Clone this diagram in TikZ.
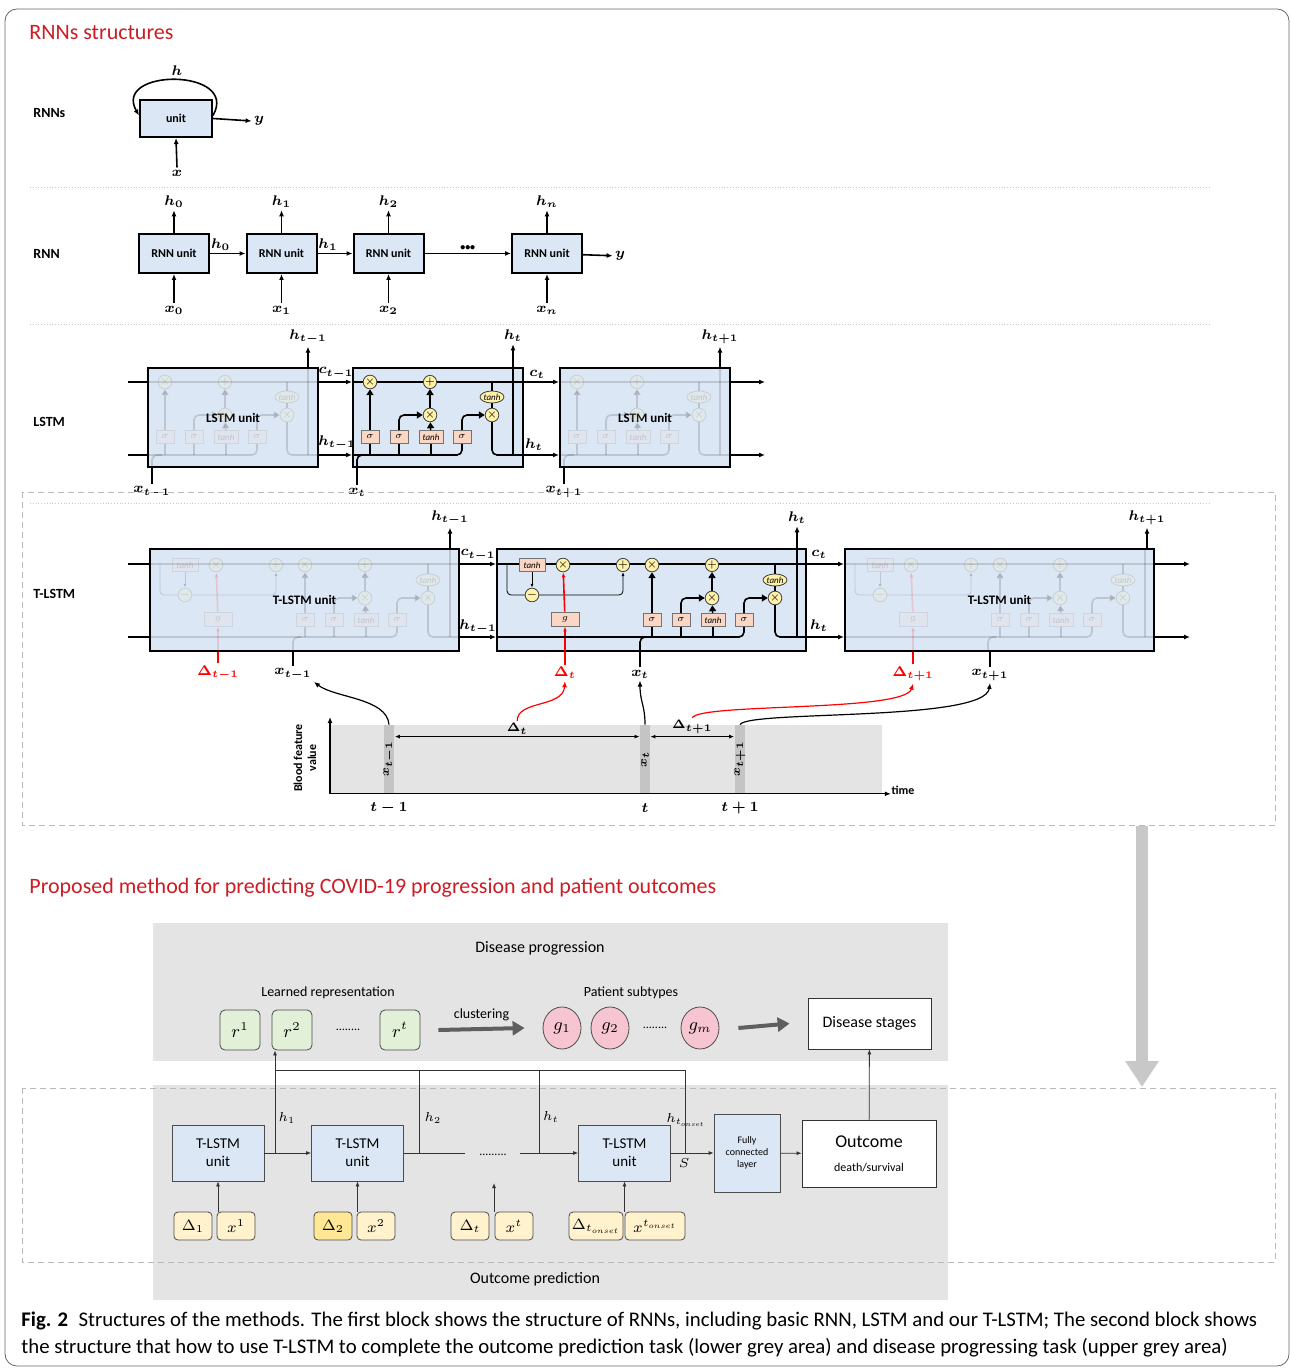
\RequirePackage{fix-cm}
\documentclass[tikz,border=0pt]{standalone}
\usepackage{amsmath,bm}
\usepackage{fontspec}
\setmainfont{Carlito}
\usetikzlibrary{positioning,arrows.meta,calc,shapes.geometric}

\definecolor{titlered}{RGB}{204,28,36}
\definecolor{unitblue}{RGB}{219,231,245}
\definecolor{gatepink}{RGB}{250,214,196}
\definecolor{opyellow}{RGB}{255,241,168}
\definecolor{areagray}{RGB}{228,228,228}
\definecolor{stripegray}{RGB}{196,196,196}
\definecolor{reprgreen}{RGB}{227,240,216}
\definecolor{subpink}{RGB}{247,196,210}
\definecolor{inyellow}{RGB}{255,242,204}
\definecolor{inyellowd}{RGB}{255,231,150}
\definecolor{fatgray}{RGB}{95,95,95}
\definecolor{biggray}{RGB}{200,200,200}

\tikzset{
  op/.style={circle,draw=black!75,fill=opyellow,inner sep=0pt,minimum size=6pt,
    font=\fontsize{5}{5}\selectfont},
  gate/.style={draw=black!55,fill=gatepink,inner sep=0pt,minimum width=9pt,
    minimum height=6.5pt,font=\fontsize{4.5}{5}\selectfont\itshape},
  tanhop/.style={ellipse,draw=black!75,fill=opyellow,inner sep=0pt,
    minimum width=12pt,minimum height=6pt,font=\fontsize{4.5}{5}\selectfont\itshape},
  garrow/.style={-{Triangle[length=3pt,width=3.5pt]},thick,rounded corners=2.5pt},
  % inside of one LSTM cell, origin = top left corner of the cell
  lstmcore/.pic={
    \draw[thick] (0,14) -- (170,14);
    \node[op] (-f) at (17,14) {$\times$};
    \node[op] (-a) at (77,14) {$+$};
    \node[op] (-i) at (77,47) {$\times$};
    \node[tanhop] (-th) at (139,29) {tanh};
    \node[op] (-o) at (139,47) {$\times$};
    \node[gate] (-g1) at (17,69) {$\sigma$};
    \node[gate] (-g2) at (46,69) {$\sigma$};
    \node[gate,minimum width=12pt] (-g3) at (78,69) {tanh};
    \node[gate] (-g4) at (109,69) {$\sigma$};
    \draw[garrow] (-g1) -- (-f);
    \draw[garrow] (-g2) |- (-i);
    \draw[garrow] (-g3) -- (-i);
    \draw[garrow] (-i) -- (-a);
    \draw[garrow] (-g4) |- (-o);
    \draw[thick] (139,14) -- (-th) -- (-o);
    \draw[thick,rounded corners=2.5pt] (-o) |- (170,87);
    \draw[thick] (160,87) -- (160,0);
    \draw[thick,rounded corners=2.5pt] (0,87) -| (-g4);
    \draw[thick] (-g1) -- (17,87) (-g2) -- (46,87) (-g3) -- (78,87);
    \draw[thick,rounded corners=2.5pt] (4,99) |- (14,87);
  },
  % inside of one T-LSTM cell
  tlstmcore/.pic={
    \draw[thick] (0,15) -- (309,15);
    \node[gate,minimum width=13pt] (-tb) at (35,16) {tanh};
    \node[op] (-a) at (66,16) {$\times$};
    \node[op] (-p) at (126,16) {$+$};
    \node[op] (-f) at (155,16) {$\times$};
    \node[op] (-q) at (215,16) {$+$};
    \node[op] (-m) at (35,46) {$-$};
    \node[op] (-i) at (215,49) {$\times$};
    \node[tanhop] (-th) at (278,31) {tanh};
    \node[op] (-o) at (278,49) {$\times$};
    \node[gate,minimum width=14pt,minimum height=7pt] (-gg) at (68,70) {$g$};
    \node[gate] (-s1) at (155,71) {$\sigma$};
    \node[gate] (-s2) at (184,71) {$\sigma$};
    \node[gate,minimum width=12pt] (-s3) at (216,71) {tanh};
    \node[gate] (-s4) at (247,71) {$\sigma$};
    \draw[-{Latex[length=2pt]}] (-tb) -- (-m);
    \draw[rounded corners=2pt] (10,15) |- (-m);
    \draw[-{Latex[length=2pt]},rounded corners=2pt] (-m) -| (-p);
    \draw[red,thick,-{Latex[length=2.5pt]}] (68,102) -- (-gg);
    \draw[red,thick,-{Latex[length=2.5pt]}] (-gg) -- (-a);
    \draw[garrow] (-s1) -- (-f);
    \draw[garrow] (-s2) |- (-i);
    \draw[garrow] (-s3) -- (-i);
    \draw[garrow] (-i) -- (-q);
    \draw[garrow] (-s4) |- (-o);
    \draw[thick] (278,15) -- (-th) -- (-o);
    \draw[thick,rounded corners=2.5pt] (-o) |- (309,88);
    \draw[thick] (300,88) -- (300,0);
    \draw[thick,rounded corners=2.5pt] (0,88) -| (-s4);
    \draw[thick] (-s1) -- (155,88) (-s2) -- (184,88) (-s3) -- (216,88);
    \draw[thick,rounded corners=2.5pt] (143,102) |- (151,88);
  }
}

\begin{document}
\begin{tikzpicture}[x=0.5pt,y=-0.5pt,
  every node/.style={inner sep=1pt},
  ttl/.style={anchor=west,text=titlered,font=\fontsize{11}{13}\selectfont},
  rowlbl/.style={anchor=west,font=\bfseries\fontsize{7}{8}\selectfont},
  mlbl/.style={font=\fontsize{7}{8}\selectfont},
  slbl/.style={font=\fontsize{6.5}{7}\selectfont},
  rnnbox/.style={draw,line width=1pt,fill=unitblue,inner sep=0pt,
    minimum width=35pt,minimum height=19.5pt,font=\bfseries\fontsize{6}{7}\selectfont},
  cellbox/.style={draw,line width=1pt,fill=unitblue,inner sep=0pt,
    font=\bfseries\fontsize{6.5}{7}\selectfont},
  flow/.style={-{Latex[length=3pt,width=2.5pt]},thick},
  rflow/.style={flow,red},
  dbl/.style={{Latex[length=2.5pt,width=2pt]}-{Latex[length=2.5pt,width=2pt]},semithick},
  sepline/.style={gray!45,densely dotted},
  dashframe/.style={gray!55,dash pattern=on 3pt off 2pt},
  stripe/.style={fill=stripegray,inner sep=0pt,minimum width=5pt,minimum height=34pt,
    font=\fontsize{6}{7}\selectfont},
  area/.style={fill=areagray,inner sep=0pt,anchor=north west},
  fat/.style={-{Triangle[length=6pt,width=7pt]},line width=2pt,fatgray},
  repbox/.style={draw=black!70,fill=reprgreen,rounded corners=2.5pt,minimum width=20pt,
    minimum height=20pt,inner sep=0pt,font=\fontsize{9}{10}\selectfont},
  subell/.style={ellipse,draw=black!70,fill=subpink,minimum width=19pt,
    minimum height=21pt,inner sep=0pt,font=\fontsize{9}{10}\selectfont},
  plainbox/.style={draw=black!80,fill=white,inner sep=0pt,align=center},
  tunit/.style={draw=black!70,fill=unitblue,inner sep=0pt,minimum width=46pt,
    minimum height=28pt,align=center,font=\fontsize{7.5}{9}\selectfont},
  inbox/.style={draw=black!70,fill=inyellow,rounded corners=2pt,inner sep=0pt,
    minimum width=19pt,minimum height=14pt,font=\fontsize{7.5}{8}\selectfont},
  wire/.style={black!80,thin},
  sflow/.style={-{Latex[length=2.5pt,width=2pt]},thin,black!80}
 ]
  \useasboundingbox (0,0) rectangle (1290,1368);
  \draw[black!60,rounded corners=6pt] (5,9) rectangle (1289,1366);

  % ---------------- RNNs structures
  \node[ttl] (ttl1) at (27,33) {RNNs structures};

  \node[rowlbl] (lr1) at (31,113) {RNNs};
  \node[rnnbox,minimum width=36pt,minimum height=18.5pt] (u) at (176,118.5) {unit};
  \node[mlbl] (hh) at (177,71) {$\bm{h}$};
  \node[mlbl] (yy) at (259,121) {$\bm{y}$};
  \node[mlbl] (xx) at (177,173) {$\bm{x}$};
  \draw[flow] (u.east) -- (yy.west);
  \draw[flow] (xx.north) -- (u.south);
  \draw[flow] ([yshift=1.5pt]u.east) .. controls (240,68) and (112,68) .. ([yshift=1.5pt]u.west);
  \draw[sepline] (30,187) -- (1210,187);

  \node[rowlbl] (lr2) at (31,254) {RNN};
  \node[rnnbox] (r0) at (174,253.5) {RNN unit};
  \node[rnnbox] (r1) at (281.5,253.5) {RNN unit};
  \node[rnnbox] (r2) at (388.5,253.5) {RNN unit};
  \node[rnnbox] (rn) at (547,253.5) {RNN unit};
  \node[mlbl] (h0) at (174,202) {$\bm{h_0}$};
  \node[mlbl] (h1) at (281.5,202) {$\bm{h_1}$};
  \node[mlbl] (h2) at (388.5,202) {$\bm{h_2}$};
  \node[mlbl] (hn) at (547,202) {$\bm{h_n}$};
  \node[mlbl] (x0) at (174,310) {$\bm{x_0}$};
  \node[mlbl] (x1) at (281.5,310) {$\bm{x_1}$};
  \node[mlbl] (x2) at (388.5,310) {$\bm{x_2}$};
  \node[mlbl] (xn) at (547,310) {$\bm{x_n}$};
  \node[mlbl] (yo) at (620,256) {$\bm{y}$};
  \draw[flow] (r0.north) -- (h0.south);
  \draw[flow] (r1.north) -- (h1.south);
  \draw[flow] (r2.north) -- (h2.south);
  \draw[flow] (rn.north) -- (hn.south);
  \draw[flow] (x0.north) -- (r0.south);
  \draw[flow] (x1.north) -- (r1.south);
  \draw[flow] (x2.north) -- (r2.south);
  \draw[flow] (xn.north) -- (rn.south);
  \draw[flow] (r0) -- node[mlbl,above,pos=0.3] (e0) {$\bm{h_0}$} (r1);
  \draw[flow] (r1) -- node[mlbl,above,pos=0.3] (e1) {$\bm{h_1}$} (r2);
  \draw[flow] (r2) -- node[above,font=\bfseries\fontsize{5}{5}\selectfont] (e2) {•••} (rn);
  \draw[flow] (rn) -- (yo);
  \draw[sepline] (30,324) -- (1210,324);

  % ---------------- LSTM
  \node[rowlbl] (lr3) at (31,422) {LSTM};
  \node[cellbox,minimum width=85pt,minimum height=49.5pt] (l1) at (233,417.5) {LSTM unit};
  \pic[opacity=.14] (gl1) at (148,368) {lstmcore};
  \node[cellbox,minimum width=85pt,minimum height=49.5pt] (l2) at (438,417.5) {};
  \pic (lc) at (353,368) {lstmcore};
  \node[cellbox,minimum width=85pt,minimum height=49.5pt] (l3) at (645,417.5) {LSTM unit};
  \pic[opacity=.14] (gl3) at (560,368) {lstmcore};

  \coordinate (lc0) at (128,382);
  \coordinate (lh0) at (128,455);
  \coordinate (lc4) at (765,382);
  \coordinate (lh4) at (765,455);
  \draw[thick] (lc0) -- (l1.west |- lc0);
  \draw[thick] (lh0) -- (l1.west |- lh0);
  \draw[flow] (l1.east |- lc0) -- (l2.west |- lc0);
  \draw[flow] (l1.east |- lh0) -- (l2.west |- lh0);
  \draw[flow] (l2.east |- lc0) -- (l3.west |- lc0);
  \draw[flow] (l2.east |- lh0) -- (l3.west |- lh0);
  \draw[flow] (l3.east |- lc0) -- (lc4);
  \draw[flow] (l3.east |- lh0) -- (lh4);
  \node[mlbl] (lct1) at (336,373) {$\bm{c_{t-1}}$};
  \node[mlbl] (lht1) at (337,443) {$\bm{h_{t-1}}$};
  \node[mlbl] (lct) at (537,374) {$\bm{c_t}$};
  \node[mlbl] (lht) at (534,445) {$\bm{h_t}$};
  \node[mlbl] (lu1) at (308,337) {$\bm{h_{t-1}}$};
  \node[mlbl] (lu2) at (513,336) {$\bm{h_t}$};
  \node[mlbl] (lu3) at (720,337) {$\bm{h_{t+1}}$};
  \draw[flow] (lu1.south |- l1.north) -- (lu1.south);
  \draw[flow] (lu2.south |- l2.north) -- (lu2.south);
  \draw[flow] (lu3.south |- l3.north) -- (lu3.south);
  \node[mlbl] (lx1) at (152,492) {$\bm{x_{t-1}}$};
  \node[mlbl] (lx2) at (357,492) {$\bm{x_t}$};
  \node[mlbl] (lx3) at (564,492) {$\bm{x_{t+1}}$};
  \draw[thick] (lx1.north) -- (lx1.north |- l1.south);
  \draw[thick] (lx2.north) -- (lx2.north |- l2.south);
  \draw[thick] (lx3.north) -- (lx3.north |- l3.south);

  % ---------------- T-LSTM
  \draw[dashframe] (22,492) rectangle (1275,825);
  \draw[sepline] (30,503) -- (1210,503);
  \node[rowlbl] (lr4) at (31,594) {T-LSTM};
  \node[cellbox,minimum width=154.5pt,minimum height=51pt] (t1) at (304.5,600) {T-LSTM unit};
  \pic[opacity=.14] (gt1) at (150,549) {tlstmcore};
  \node[cellbox,minimum width=154.5pt,minimum height=51pt] (t2) at (651.5,600) {};
  \pic (tc) at (497,549) {tlstmcore};
  \node[cellbox,minimum width=154.5pt,minimum height=51pt] (t3) at (999.5,600) {T-LSTM unit};
  \pic[opacity=.14] (gt3) at (845,549) {tlstmcore};

  \coordinate (tc0) at (128,564);
  \coordinate (th0) at (128,637);
  \coordinate (tc4) at (1190,564);
  \coordinate (th4) at (1190,637);
  \draw[thick] (tc0) -- (t1.west |- tc0);
  \draw[thick] (th0) -- (t1.west |- th0);
  \draw[flow] (t1.east |- tc0) -- (t2.west |- tc0);
  \draw[flow] (t1.east |- th0) -- (t2.west |- th0);
  \draw[flow] (t2.east |- tc0) -- (t3.west |- tc0);
  \draw[flow] (t2.east |- th0) -- (t3.west |- th0);
  \draw[flow] (t3.east |- tc0) -- (tc4);
  \draw[flow] (t3.east |- th0) -- (th4);
  \node[mlbl] (tct1) at (478,555) {$\bm{c_{t-1}}$};
  \node[mlbl] (tht1) at (478,627) {$\bm{h_{t-1}}$};
  \node[mlbl] (tct) at (819,554) {$\bm{c_t}$};
  \node[mlbl] (tht) at (819,626) {$\bm{h_t}$};
  \node[mlbl] (tu1) at (450,518) {$\bm{h_{t-1}}$};
  \node[mlbl] (tu2) at (797,518) {$\bm{h_t}$};
  \node[mlbl] (tu3) at (1147,518) {$\bm{h_{t+1}}$};
  \draw[flow] (tu1.south |- t1.north) -- (tu1.south);
  \draw[flow] (tu2.south |- t2.north) -- (tu2.south);
  \draw[flow] (tu3.south |- t3.north) -- (tu3.south);
  \node[mlbl,text=red] (dT1) at (218,673) {$\bm{\Delta_{t-1}}$};
  \node[mlbl] (xT1) at (293,674) {$\bm{x_{t-1}}$};
  \node[mlbl,text=red] (dT2) at (565,673) {$\bm{\Delta_t}$};
  \node[mlbl] (xT2) at (640,674) {$\bm{x_t}$};
  \node[mlbl,text=red] (dT3) at (913,674) {$\bm{\Delta_{t+1}}$};
  \node[mlbl] (xT3) at (990,675) {$\bm{x_{t+1}}$};
  \draw[red,thick] (dT1.north) -- (dT1.north |- t1.south);
  \draw[red,thick] (dT2.north) -- (dT2.north |- t2.south);
  \draw[red,thick] (dT3.north) -- (dT3.north |- t3.south);
  \draw[thick] (xT1.north) -- (xT1.north |- t1.south);
  \draw[thick] (xT2.north) -- (xT2.north |- t2.south);
  \draw[thick] (xT3.north) -- (xT3.north |- t3.south);

  % time line
  \node[area,minimum width=276pt,minimum height=34pt] (tla) at (330,725) {};
  \draw[flow,semithick] (tla.south west) -- ([xshift=4pt]tla.south east);
  \draw[flow,semithick] (tla.south west) -- ([yshift=4pt]tla.north west);
  \node[font=\bfseries\fontsize{6}{7}\selectfont] (tim) at (903,790) {time};
  \node[rotate=90,align=center,font=\bfseries\fontsize{6}{7}\selectfont] (yl) at (305,758)
    {Blood feature\\value};
  \node[stripe] (st1) at (389,759) {\rotatebox{90}{$\bm{x_{t-1}}$}};
  \node[stripe] (st2) at (645,759) {\rotatebox{90}{$\bm{x_t}$}};
  \node[stripe] (st3) at (740,759) {\rotatebox{90}{$\bm{x_{t+1}}$}};
  \node[mlbl] (tm1) at (389,808) {$\bm{t-1}$};
  \node[mlbl] (tm2) at (645,808) {$\bm{t}$};
  \node[mlbl] (tm3) at (740,808) {$\bm{t+1}$};
  \draw[dbl] ([yshift=-6pt]st1.north east) --
    node[above,font=\fontsize{6}{7}\selectfont] (dtl) {$\bm{\Delta_t}$} ([yshift=-6pt]st2.north west);
  \draw[dbl] ([yshift=-6pt]st2.north east) --
    node[above,font=\fontsize{6}{7}\selectfont] (dtl2) {$\bm{\Delta_{t+1}}$} ([yshift=-6pt]st3.north west);
  \draw[flow,semithick] (st1.north) .. controls (387,698) and (335,698) .. (xT1.south east);
  \draw[flow,semithick] (st2.north) .. controls (645,705) and (640,702) .. (xT2.south);
  \draw[rflow,semithick] (dtl.north) .. controls (517,700) and (563,708) .. (dT2.south);
  \draw[rflow,semithick] (dtl2.north) .. controls (702,703) and (905,712) .. (dT3.south);
  \draw[flow,semithick] (st3.north) .. controls (748,710) and (985,722) .. (xT3.south);

  % ---------------- proposed method
  \coordinate (bga) at (1142,826);
  \coordinate (bgb) at (1142,1087);
  \draw[-{Triangle[length=13pt,width=16pt]},line width=6pt,biggray] (bga) -- (bgb);
  \node[ttl] (ttl2) at (27,888)
    {Proposed method for predicting COVID-19 progression and patient outcomes};

  \node[area,minimum width=397.5pt,minimum height=69pt] (dparea) at (153,923) {};
  \node[area,minimum width=397.5pt,minimum height=107.5pt] (oparea) at (153,1085) {};
  \draw[dashframe] (22,1088) rectangle (1275,1262);
  \node[font=\fontsize{8}{9}\selectfont] (dpl) at (540,948) {Disease progression};
  \node[font=\fontsize{8}{9}\selectfont] (opl) at (535,1279) {Outcome prediction};

  \node[font=\fontsize{7}{8}\selectfont] (lrep) at (328,993) {Learned representation};
  \node[font=\fontsize{7}{8}\selectfont] (lsub) at (631,993) {Patient subtypes};
  \node[repbox] (rep1) at (240,1030) {$r^1$};
  \node[repbox] (rep2) at (292,1030) {$r^2$};
  \node[font=\fontsize{6}{6}\selectfont] (rdots) at (348,1030) {........};
  \node[repbox] (rept) at (400,1030) {$r^t$};
  \node[subell] (g1) at (562,1028) {$g_1$};
  \node[subell] (g2) at (610,1028) {$g_2$};
  \node[font=\fontsize{6}{6}\selectfont] (gdots) at (655,1028) {........};
  \node[subell] (gm) at (700,1028) {$g_m$};
  \node[plainbox,minimum width=61.5pt,minimum height=25.5pt,font=\fontsize{8}{9}\selectfont]
    (DS) at (869.5,1023.5) {Disease stages};
  \draw[fat] ([xshift=9pt]rept.east) --
    node[above=2pt,text=black,font=\fontsize{7}{8}\selectfont] (clu) {clustering}
    ([xshift=-9pt]g1.west);
  \draw[fat] ([xshift=9.5pt]gm.east) -- ([xshift=-9pt]DS.west);

  \node[tunit] (TL1) at (218,1153) {T-LSTM\\unit};
  \node[tunit] (TL2) at (357.5,1153) {T-LSTM\\unit};
  \node[font=\fontsize{6}{6}\selectfont] (udots) at (493,1155) {.........};
  \node[tunit] (TL3) at (624.5,1153) {T-LSTM\\unit};
  \node[draw=black!70,fill=unitblue,inner sep=0pt,minimum width=33pt,minimum height=39pt,
    align=center,font=\fontsize{5}{6}\selectfont] (FC) at (747,1153) {Fully\\connected\\layer};
  \node[plainbox,minimum width=67pt,minimum height=33.5pt] (OUT) at (869,1153.5)
    {{\fontsize{9}{11}\selectfont Outcome}\\{\fontsize{6}{7}\selectfont death/survival}};

  \coordinate (j1) at (275,1153);
  \coordinate (j2) at (419,1153);
  \coordinate (j3) at (539,1153);
  \coordinate (j4) at (685,1153);
  \coordinate (k1) at (275,1070);
  \coordinate (k2) at (419,1070);
  \coordinate (k3) at (539,1070);
  \coordinate (k4) at (685,1070);
  \coordinate (dl) at (465,1153);
  \coordinate (dr) at (520,1153);
  \draw[sflow] (TL1) -- (TL2);
  \draw[wire] (TL2) -- (dl);
  \draw[sflow] (dr) -- (TL3);
  \draw[sflow] (TL3) -- (FC);
  \draw[sflow] (FC) -- (OUT);
  \draw[wire] (j1) -- (k1) -- (k4) -- (j4);
  \draw[wire] (j2) -- (k2);
  \draw[wire] (j3) -- (k3);
  \draw[sflow] (k1) -- (k1 |- rep2.south);
  \draw[sflow] (OUT) -- (DS);
  \node[slbl] (lh1) at (287,1118) {$h_1$};
  \node[slbl] (lh2) at (433,1118) {$h_2$};
  \node[slbl] (lht3) at (551,1117) {$h_t$};
  \node[slbl] (lhon) at (686,1120) {$h_{t_{onset}}$};
  \node[slbl] (ls) at (684,1163) {$S$};

  \node[inbox] (d1) at (193,1226) {$\Delta_1$};
  \node[inbox] (i1) at (236,1226) {$x^1$};
  \node[inbox,fill=inyellowd] (d2) at (333,1226) {$\Delta_2$};
  \node[inbox] (i2) at (376,1226) {$x^2$};
  \node[inbox] (dt) at (470,1226) {$\Delta_t$};
  \node[inbox] (it) at (514,1226) {$x^t$};
  \node[inbox,minimum width=27pt] (don) at (596,1226) {$\Delta_{t_{onset}}$};
  \node[inbox,minimum width=30pt] (ion) at (655,1226) {$x^{t_{onset}}$};
  \coordinate (dotin) at (494,1183);
  \draw[sflow] (TL1.south |- d1.north) -- (TL1);
  \draw[sflow] (TL2.south |- d2.north) -- (TL2);
  \draw[sflow] (dotin |- dt.north) -- (dotin);
  \draw[sflow] (TL3.south |- don.north) -- (TL3);

  % ---------------- caption
  \node[anchor=north west,align=left,inner sep=0pt,font=\fontsize{10.4}{13.5}\selectfont] (cap)
    at (21,1311) {\textbf{Fig. 2}\enspace Structures of the methods. The first block shows the
    structure of RNNs, including basic RNN, LSTM and our T-LSTM; The second block shows\\
    the structure that how to use T-LSTM to complete the outcome prediction task (lower grey
    area) and disease progressing task (upper grey area)};
\end{tikzpicture}
\end{document}
